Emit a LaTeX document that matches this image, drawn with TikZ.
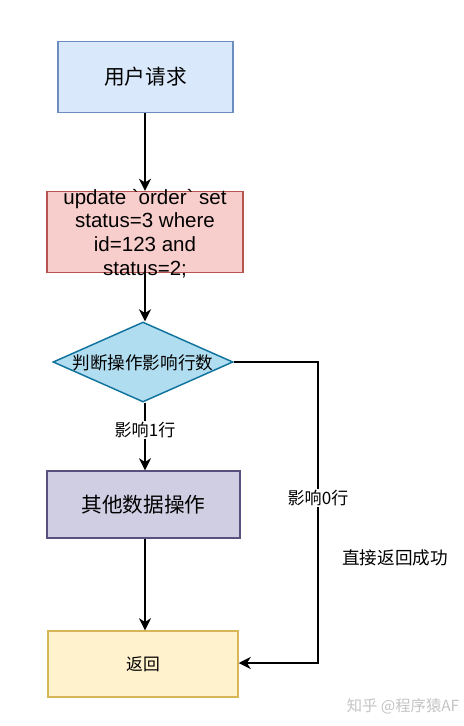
\documentclass[tikz,border=0pt]{standalone}
\usepackage{fontspec}
\setmainfont{Liberation Sans}
\newfontfamily\cjk{Noto Sans CJK SC}
\usetikzlibrary{arrows.meta,shapes.geometric}
\definecolor{b1fill}{HTML}{DAE8FC}\definecolor{b1draw}{HTML}{6C8EBF}
\definecolor{b2fill}{HTML}{F8CECC}\definecolor{b2draw}{HTML}{B85450}
\definecolor{dfill}{HTML}{B1DDF0}\definecolor{ddraw}{HTML}{10739E}
\definecolor{b3fill}{HTML}{D0CEE2}\definecolor{b3draw}{HTML}{56517E}
\definecolor{b4fill}{HTML}{FFF2CC}\definecolor{b4draw}{HTML}{D6B656}
\definecolor{wm}{HTML}{C4C4C4}
\tikzset{
  box/.style={rectangle, line width=1.1pt, inner sep=0pt, align=center},
  conn/.style={line width=1.5pt, -{Stealth[length=9pt,width=9pt,inset=2.8pt]}},
  lbl/.style={fill=white, inner sep=1pt, font=\cjk\fontsize{12.8}{15}\selectfont},
}
\begin{document}
\begin{tikzpicture}[x=0.75pt,y=-0.75pt]
\useasboundingbox (0,0) rectangle (464,726);
% nodes
\node[box, fill=b1fill, draw=b1draw, minimum width=175*0.75pt, minimum height=71*0.75pt,
      font=\cjk\fontsize{15.5}{18}\selectfont] (req) at (145.5,77) {用户请求};
\node[box, fill=b2fill, draw=b2draw, minimum width=196*0.75pt, minimum height=81*0.75pt] (sql) at (145,232) {};
\node[align=center, font=\fontsize{15.4}{17.8}\selectfont, inner sep=0pt] (sqltxt) at (145,233.5)
      {update \textasciigrave order\textasciigrave\ set\\status=3 where\\id=123 and\\status=2;};
\node[diamond, aspect=2.25, fill=dfill, draw=ddraw, line width=1.1pt, inner sep=0pt,
      minimum width=180*0.75pt, minimum height=80*0.75pt] (dec) at (143,362) {};
\node[font=\cjk\fontsize{13.2}{15}\selectfont] (dectxt) at (143,363) {判断操作影响行数};
\node[box, fill=b3fill, draw=b3draw, minimum width=193*0.75pt, minimum height=67*0.75pt,
      font=\cjk\fontsize{15.5}{18}\selectfont] (other) at (143.5,504.5) {其他数据操作};
\node[box, fill=b4fill, draw=b4draw, minimum width=190*0.75pt, minimum height=66*0.75pt,
      font=\cjk\fontsize{12.6}{15}\selectfont] (ret) at (143,664) {返回};
\coordinate (c1) at (318,362);
\coordinate (c2) at (318,663);
% connectors
\draw[conn] (req.south -| 145,0) -- (sql.north -| 145,0);
\draw[conn] (sql.south -| 145,0) -- (dec.north -| 145,0);
\draw[conn] (dec.south -| 145,0) -- node[lbl, pos=0.4] (l1) {影响1行} (other.north -| 145,0);
\draw[conn] (other.south -| 145,0) -- (ret.north -| 145,0);
\draw[conn] (dec.east) -- (c1) -- node[lbl, pos=0.451] (l0) {影响0行} (c2) -- (ret.east |- c2);
% free texts
\node[font=\cjk\fontsize{13.2}{15}\selectfont] (note) at (395,558) {直接返回成功};
\node[font=\cjk\fontsize{11.5}{13}\selectfont, text=wm] (wmark) at (403,706) {知乎 @程序猿AF};
\end{tikzpicture}
\end{document}
